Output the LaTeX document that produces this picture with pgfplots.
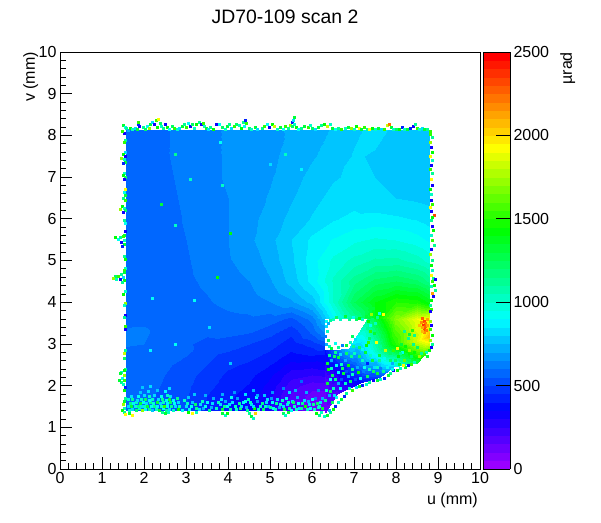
\documentclass[border=0pt]{standalone}
\usepackage{pgfplots}
\pgfplotsset{compat=1.18}
\usepackage{fontspec}
\setmainfont{Liberation Sans}
\pgfplotsset{colormap={rbbase}{rgb(0)=(0.6,0,1) rgb(340)=(0,0,1) rgb(890)=(0,1,1) rgb(1440)=(0,1,0) rgb(1940)=(1,1,0) rgb(2500)=(1,0,0)}}
\pgfplotsset{colormap={rb}{samples of colormap=(50 of rbbase)}}
\begin{document}
\begin{tikzpicture}[x=1pt,y=1pt]
\path[use as bounding box] (0,0) rectangle (601,522);
\node[anchor=base] at (285,498) {\fontsize{19.4}{20}\selectfont JD70-109 scan 2};
\node[anchor=north east,rotate=90,inner sep=0pt] at (23,470) {\fontsize{16}{16}\selectfont v (mm)};
\node[anchor=base east,inner sep=0pt] at (478,18) {\fontsize{16}{16}\selectfont u (mm)};
\node[anchor=north east,rotate=90,inner sep=0pt] at (560,470) {\fontsize{16}{16}\selectfont µrad};
\begin{axis}[at={(60pt,53pt)},anchor=south west,width=420pt,height=417pt,scale only axis,
 xmin=0,xmax=10,ymin=0,ymax=10,xtick={0,1,...,10},ytick={0,1,...,10},minor tick num=4,
 tick pos=left,tick align=inside,axis line style={line width=0.8pt},
 every tick/.style={black,line width=0.7pt},
 major tick length=12pt,minor tick length=6pt,
 tick label style={font=\fontsize{16}{16}\selectfont},
 /pgf/number format/assume math mode=true,
 colormap name=rb,colormap access=piecewise constant,
 point meta min=0,point meta max=2500,
 colorbar,
 colorbar style={at={(1.0071,0)},anchor=south west,width=27pt,height=417pt,
   ytick={0,500,1000,1500,2000,2500},yticklabel pos=right,
   ytick pos=right,major tick length=14pt,tick align=inside,
   /pgf/number format/fixed,/pgf/number format/1000 sep={},
   /pgf/number format/assume math mode=true,
   tick label style={font=\fontsize{16}{16}\selectfont},
   axis line style={line width=0.8pt}},
 clip=true]
\addplot[surf,shader=interp,mesh/cols=16,point meta=explicit,mesh/ordering=x varies] table[x index=0,y index=1,meta index=2,row sep=\\] {
1.58 8.13 555\\2 8.13 565\\2.5 8.13 595\\3 8.13 620\\3.5 8.13 640\\4 8.13 655\\4.5 8.13 670\\5 8.13 690\\5.5 8.13 705\\6 8.13 730\\6.5 8.13 755\\7 8.13 790\\7.5 8.13 815\\8 8.13 790\\8.5 8.13 785\\8.8 8.13 790\\
1.58 7.5 555\\2 7.5 565\\2.5 7.5 595\\3 7.5 620\\3.5 7.5 640\\4 7.5 655\\4.5 7.5 675\\5 7.5 690\\5.5 7.5 715\\6 7.5 745\\6.5 7.5 770\\7 7.5 805\\7.5 7.5 795\\8 7.5 780\\8.5 7.5 775\\8.8 7.5 790\\
1.58 7 560\\2 7 565\\2.5 7 590\\3 7 615\\3.5 7 640\\4 7 655\\4.5 7 680\\5 7 695\\5.5 7 730\\6 7 765\\6.5 7 795\\7 7 810\\7.5 7 800\\8 7 790\\8.5 7 785\\8.8 7 780\\
1.58 6.5 565\\2 6.5 570\\2.5 6.5 585\\3 6.5 610\\3.5 6.5 635\\4 6.5 650\\4.5 6.5 680\\5 6.5 705\\5.5 6.5 745\\6 6.5 785\\6.5 6.5 815\\7 6.5 830\\7.5 6.5 810\\8 6.5 800\\8.5 6.5 790\\8.8 6.5 780\\
1.58 6 565\\2 6 570\\2.5 6 580\\3 6 605\\3.5 6 630\\4 6 650\\4.5 6 685\\5 6 720\\5.5 6 765\\6 6 805\\6.5 6 845\\7 6 865\\7.5 6 870\\8 6 860\\8.5 6 845\\8.8 6 825\\
1.58 5.5 565\\2 5.5 570\\2.5 5.5 580\\3 5.5 600\\3.5 5.5 625\\4 5.5 650\\4.5 5.5 690\\5 5.5 735\\5.5 5.5 800\\6 5.5 865\\6.5 5.5 905\\7 5.5 940\\7.5 5.5 960\\8 5.5 950\\8.5 5.5 920\\8.8 5.5 890\\
1.58 5 565\\2 5 570\\2.5 5 580\\3 5 595\\3.5 5 620\\4 5 645\\4.5 5 670\\5 5 720\\5.5 5 790\\6 5 880\\6.5 5 965\\7 5 1020\\7.5 5 1065\\8 5 1070\\8.5 5 1030\\8.8 5 980\\
1.58 4.5 565\\2 4.5 570\\2.5 4.5 575\\3 4.5 590\\3.5 4.5 610\\4 4.5 630\\4.5 4.5 650\\5 4.5 695\\5.5 4.5 770\\6 4.5 870\\6.5 4.5 1010\\7 4.5 1130\\7.5 4.5 1220\\8 4.5 1250\\8.5 4.5 1210\\8.8 4.5 1130\\
1.58 4 560\\2 4 565\\2.5 4 570\\3 4 580\\3.5 4 595\\4 4 615\\4.5 4 625\\5 4 650\\5.5 4 690\\6 4 770\\6.5 4 1000\\7 4 1250\\7.5 4 1400\\8 4 1500\\8.5 4 1480\\8.8 4 1380\\
1.58 3.6 580\\2 3.6 590\\2.5 3.6 570\\3 3.6 565\\3.5 3.6 570\\4 3.6 585\\4.5 3.6 590\\5 3.6 575\\5.5 3.6 535\\6 3.6 620\\6.5 3.6 880\\7 3.6 1100\\7.5 3.6 1400\\8 3.6 1700\\8.5 3.6 1900\\8.8 3.6 1950\\
};
\addplot[surf,shader=interp,mesh/cols=11,point meta=explicit,mesh/ordering=x varies] table[x index=0,y index=1,meta index=2,row sep=\\] {
1.58 3.6 580\\2 3.6 590\\2.5 3.6 570\\3 3.6 565\\3.5 3.6 570\\4 3.6 585\\4.5 3.6 590\\5 3.6 575\\5.5 3.6 535\\6 3.6 620\\6.3 3.6 760\\
1.58 3.25 610\\2 3.25 610\\2.5 3.25 570\\3 3.25 560\\3.5 3.25 555\\4 3.25 560\\4.5 3.25 550\\5 3.25 515\\5.5 3.25 460\\6 3.25 560\\6.3 3.25 650\\
1.58 3 610\\2 3 600\\2.5 3 565\\3 3 555\\3.5 3 540\\4 3 530\\4.5 3 500\\5 3 470\\5.5 3 425\\6 3 470\\6.3 3 520\\
1.58 2.75 570\\2 2.75 570\\2.5 2.75 565\\3 2.75 555\\3.5 2.75 510\\4 2.75 490\\4.5 2.75 470\\5 2.75 440\\5.5 2.75 390\\6 2.75 410\\6.3 2.75 400\\
1.58 2.5 565\\2 2.5 565\\2.5 2.5 560\\3 2.5 530\\3.5 2.5 500\\4 2.5 460\\4.5 2.5 440\\5 2.5 400\\5.5 2.5 330\\6 2.5 320\\6.3 2.5 340\\
1.58 2.25 565\\2 2.25 565\\2.5 2.25 550\\3 2.25 520\\3.5 2.25 480\\4 2.25 440\\4.5 2.25 415\\5 2.25 360\\5.5 2.25 270\\6 2.25 250\\6.3 2.25 260\\
1.58 2 565\\2 2 565\\2.5 2 545\\3 2 510\\3.5 2 465\\4 2 425\\4.5 2 395\\5 2 330\\5.5 2 220\\6 2 170\\6.3 2 170\\
1.58 1.75 560\\2 1.75 560\\2.5 1.75 540\\3 1.75 505\\3.5 1.75 450\\4 1.75 410\\4.5 1.75 380\\5 1.75 310\\5.5 1.75 190\\6 1.75 130\\6.3 1.75 130\\
1.58 1.4 560\\2 1.4 560\\2.5 1.4 535\\3 1.4 500\\3.5 1.4 440\\4 1.4 400\\4.5 1.4 370\\5 1.4 300\\5.5 1.4 180\\6 1.4 120\\6.3 1.4 110\\
};
\addplot[surf,shader=interp,mesh/cols=7,point meta=explicit,mesh/ordering=x varies] table[x index=0,y index=1,meta index=2,row sep=\\] {
6.3 2.85 400\\6.5 2.85 550\\6.88 2.9 800\\7.3 3.6 1150\\8 3.6 1700\\8.5 3.6 1900\\8.8 3.6 1950\\
6.3 2.1 170\\6.55 2.4 320\\7 2.5 550\\7.45 2.8 950\\7.9 3 1450\\8.4 3.05 1800\\8.8 3.2 2100\\
6.3 1.35 110\\6.6 1.8 180\\7.14 2.06 360\\7.62 2.2 500\\7.93 2.45 800\\8.5 2.54 1300\\8.8 2.9 1700\\
};
\addplot[scatter,only marks,mark=square*,mark size=1pt,line width=0.2pt,point meta=explicit,scatter/use mapped color={draw=mapped color,fill=mapped color}] table[x index=0,y index=1,meta index=2,row sep=\\] {
1.5 8.24 1300\\1.55 8.2 900\\1.58 8.17 1100\\1.62 8.13 700\\1.67 8.17 1400\\1.72 8.14 1000\\1.78 8.18 800\\1.83 8.15 1300\\1.88 8.22 300\\1.86 8.27 400\\1.87 8.32 1500\\1.97 8.19 1100\\2.02 8.15 1200\\2.07 8.22 900\\2.12 8.17 1700\\2.15 8.27 1300\\2.2 8.32 800\\2.25 8.26 300\\2.28 8.36 1500\\2.33 8.38 1900\\2.38 8.3 1200\\2.4 8.23 1000\\2.3 8.2 1400\\2.45 8.17 1100\\2.5 8.26 300\\2.55 8.2 1400\\2.6 8.15 900\\2.66 8.22 1200\\2.72 8.17 1500\\2.78 8.14 1000\\2.84 8.18 800\\2.9 8.22 1300\\2.95 8.27 1100\\3 8.2 1500\\3.05 8.3 900\\3.1 8.22 300\\3.15 8.28 1200\\3.2 8.18 1000\\3.25 8.26 1400\\3.3 8.33 1100\\3.35 8.27 300\\3.4 8.3 1500\\3.42 8.22 1000\\3.47 8.17 1300\\3.52 8.14 800\\3.58 8.2 1100\\3.65 8.16 1400\\3.72 8.26 300\\3.78 8.28 900\\3.85 8.2 1200\\3.92 8.15 1000\\3.98 8.22 1300\\4.02 8.26 1100\\4.08 8.18 800\\4.14 8.22 1500\\4.2 8.27 1200\\4.26 8.24 1000\\4.32 8.18 1400\\4.36 8.33 1100\\4.4 8.37 400\\4.44 8.3 1500\\4.38 8.22 900\\4.5 8.18 1200\\4.56 8.15 1000\\4.64 8.2 1300\\4.7 8.14 800\\4.8 8.18 1100\\4.86 8.23 1500\\4.92 8.26 900\\4.98 8.2 300\\5.04 8.27 1400\\5.1 8.22 1800\\5.16 8.16 1000\\5.24 8.2 1300\\5.3 8.15 900\\5.37 8.22 1500\\5.43 8.17 1100\\5.49 8.25 1700\\5.53 8.31 300\\5.57 8.27 1000\\5.55 8.36 800\\5.58 8.43 1300\\5.53 8.22 1200\\5.62 8.2 1400\\5.68 8.15 900\\5.75 8.17 1100\\5.82 8.22 1300\\5.9 8.2 1500\\5.95 8.25 1000\\6 8.17 1200\\6.08 8.15 800\\6.15 8.2 1300\\6.22 8.24 1100\\6.28 8.27 1400\\6.35 8.22 1800\\6.42 8.27 1000\\6.48 8.18 1300\\6.55 8.15 900\\6.62 8.17 1100\\6.7 8.14 1500\\6.78 8.17 1000\\6.85 8.19 1300\\6.92 8.17 1700\\7 8.15 1000\\7.06 8.22 1400\\7.12 8.18 1900\\7.18 8.15 1300\\7.25 8.2 1500\\7.3 8.16 1100\\7.36 8.14 1900\\7.42 8.17 1400\\7.5 8.14 1000\\7.58 8.18 1300\\7.65 8.15 800\\7.72 8.16 1500\\7.78 8.24 1800\\7.83 8.27 2200\\7.88 8.2 1300\\7.94 8.15 1000\\8 8.14 1200\\8.08 8.16 1400\\8.14 8.2 400\\8.2 8.16 1000\\8.27 8.15 1300\\8.34 8.18 400\\8.4 8.22 300\\8.45 8.26 1100\\8.5 8.18 1500\\8.56 8.14 1000\\8.62 8.18 800\\8.68 8.16 1300\\8.74 8.14 1100\\8.8 8.1 1500\\
1.53 8.05 300\\1.48 8.1 1500\\1.55 7.88 1100\\1.53 7.83 1500\\1.55 7.6 800\\1.5 7.55 1400\\1.46 7.45 1700\\1.52 7.42 1000\\1.55 7.36 1300\\1.5 7.33 400\\1.55 7.5 300\\1.53 7.1 1000\\1.5 7.05 1400\\1.55 7 1200\\1.52 6.95 300\\1.56 6.72 1900\\1.53 6.65 900\\1.55 6.58 1300\\1.5 6.5 1100\\1.55 6.44 1500\\1.47 6.3 1400\\1.53 6.26 1000\\1.43 6.23 1700\\1.55 6.2 1200\\1.5 6.16 300\\1.53 5.96 1100\\1.56 5.9 900\\1.55 5.7 300\\1.52 5.62 1300\\1.32 5.55 1400\\1.38 5.52 900\\1.44 5.55 1100\\1.5 5.58 1500\\1.53 5.5 1000\\1.46 5.45 300\\1.52 5.4 1300\\1.48 5.34 400\\1.53 5.1 1100\\1.56 5.03 1400\\1.55 4.82 1000\\1.53 4.78 1500\\1.52 4.72 1300\\1.46 4.68 1100\\1.38 4.63 1500\\1.3 4.62 1200\\1.26 4.58 1700\\1.34 4.55 1000\\1.42 4.56 300\\1.5 4.6 800\\1.53 4.52 1400\\1.47 4.48 1100\\1.55 4.26 1000\\1.5 4.2 1400\\1.55 3.98 1700\\1.52 3.93 1000\\1.55 3.7 300\\1.53 3.65 1100\\1.56 3.42 1500\\1.55 3.35 300\\1.55 2.85 1100\\1.52 2.78 1800\\1.53 2.65 1200\\1.55 2.4 1100\\1.52 2.36 1400\\1.46 2.33 1000\\1.42 2.3 1300\\1.53 2.24 1700\\1.47 2.18 900\\1.53 2.12 1500\\1.45 2.08 1100\\1.4 2.12 1300\\1.5 2.03 1000\\1.55 1.96 400\\1.52 1.9 1400\\1.55 1.7 1100\\1.52 1.63 1300\\1.5 1.55 1700\\1.53 1.47 1000\\1.47 1.42 1400\\1.52 1.36 1100\\1.56 1.32 1900\\
8.82 8.02 1500\\8.85 7.95 1100\\8.82 7.85 1700\\8.84 7.72 300\\8.86 7.6 1400\\8.82 7.5 1900\\8.85 7.4 1000\\8.84 7.28 300\\8.82 7.18 1500\\8.86 7.1 1100\\8.83 6.95 1900\\8.85 6.82 300\\8.82 6.72 1400\\8.84 6.6 1000\\8.83 6.45 300\\8.85 6.35 1500\\8.82 6.28 1900\\8.84 6.18 300\\8.9 6.1 2300\\8.86 6.04 1400\\8.83 5.96 1100\\8.85 5.82 300\\8.88 5.72 1400\\8.83 5.62 1000\\8.85 5.48 1500\\8.9 5.38 1100\\8.84 5.28 300\\8.82 5.16 1700\\8.85 5.02 1100\\8.83 4.9 1400\\8.85 4.78 1000\\8.84 4.65 1900\\8.88 4.58 1100\\8.92 4.55 300\\8.85 4.5 1500\\8.9 4.42 1400\\8.84 4.38 1000\\8.92 4.3 1100\\8.85 4.22 2100\\8.88 4.14 300\\8.83 4.06 1400\\8.82 3.92 1100\\8.84 3.84 1500\\8.8 3.78 300\\
8.62 3.62 2250\\8.66 3.55 2300\\8.7 3.5 2200\\8.64 3.46 2350\\8.7 3.42 2250\\8.66 3.36 2300\\8.62 3.4 2100\\8.72 3.34 2200\\8.68 3.28 2150\\8.62 3.3 2050\\8.74 3.6 2100\\8.6 3.52 2150\\8.56 3.46 2050\\8.74 3.46 2100\\
8.82 3.55 1700\\8.84 3.45 300\\8.82 3.35 1500\\8.85 3.22 1400\\8.82 3.1 1700\\8.86 3 1100\\8.83 2.92 300\\8.78 2.85 1400\\8.72 2.8 1000\\8.66 2.75 1500\\8.74 2.7 1300\\8.6 2.78 1100\\8.55 2.7 1700\\8.5 2.62 1300\\8.44 2.56 1000\\8.36 2.52 1500\\8.28 2.48 400\\8.22 2.44 1300\\8.16 2.5 1900\\8.1 2.42 1000\\8.02 2.38 1400\\7.94 2.36 300\\7.86 2.3 1100\\7.8 2.24 1300\\7.72 2.18 400\\7.62 2.16 1000\\7.54 2.12 1300\\7.45 2.14 300\\7.36 2.08 1100\\7.28 2.04 1000\\7.2 2.02 400\\7.12 1.98 1300\\7.04 1.96 800\\6.96 1.9 1500\\6.88 1.95 1000\\6.82 1.82 1100\\6.76 1.75 400\\6.7 1.68 1300\\6.62 1.6 1000\\6.56 1.52 400\\6.5 1.44 1400\\6.44 1.36 1100\\6.36 1.3 1300\\6.28 1.27 1000\\6.4 1.42 700\\6.48 1.6 1200\\6.58 1.72 900\\
8.4 3 1100\\8.3 2.85 1700\\8.24 2.75 1300\\8.15 2.8 900\\8.05 2.7 1400\\8.1 2.6 1100\\8.2 2.62 1600\\8.35 2.7 1200\\8 2.52 1000\\7.9 2.55 700\\7.85 2.62 1200\\7.78 2.45 900\\7.7 2.35 1100\\7.62 2.42 600\\7.55 2.3 1300\\7.48 2.45 800\\7.42 2.28 500\\7.35 2.4 1000\\7.3 2.22 1200\\7.22 2.35 600\\7.15 2.18 900\\7.1 2.32 1400\\7.02 2.15 500\\6.95 2.28 1000\\6.9 2.1 1200\\6.85 2.22 700\\6.78 2.05 1000\\6.75 2.3 1300\\6.7 2.15 500\\6.66 1.95 900\\7.6 2.6 1100\\7.5 2.55 700\\7.42 2.62 1300\\7.3 2.55 400\\7.2 2.6 1000\\7.12 2.7 1200\\7 2.62 600\\6.92 2.7 1100\\6.85 2.5 1400\\6.78 2.62 700\\6.7 2.52 1000\\6.62 2.68 1300\\6.58 2.5 900\\6.52 2.7 1200\\6.45 2.6 700\\6.4 2.72 1100\\6.36 2.55 1300\\6.45 2.42 1000\\6.38 2.4 1400\\6.48 2.25 1200\\6.42 2.15 900\\6.36 2.05 1300\\6.34 1.9 1000\\6.4 1.78 700\\6.32 1.65 1100\\
7.28 2.98 1400\\7.2 2.88 900\\7.26 2.8 1300\\7.12 2.92 1200\\7.05 2.85 700\\6.98 2.95 1100\\7.33 3.05 1500\\7.36 3.15 1200\\7.3 3.22 1000\\7.38 3.3 1500\\7.32 3.38 1100\\7.38 3.46 900\\7.33 3.55 1400\\7.42 3.6 1200\\7.2 3.6 1000\\7.12 3.62 1400\\7.05 3.6 1200\\6.98 3.64 900\\7.28 3.66 1300\\7.4 3.72 1700\\7.46 3.85 1300\\
7.6 3.75 900\\7.7 3.72 1900\\7.55 3.65 1100\\7.5 3.5 1000\\7.48 3.25 1300\\7.52 3.05 1900\\7.62 2.95 1100\\7.75 2.85 1800\\7.85 2.78 1200\\8.02 2.9 1900\\8.12 3 1300\\8.28 3.15 1100\\8.2 3.3 1100\\8.32 3.24 1300\\8.42 3.2 1100\\8.38 3.34 1500\\
6.33 3.55 900\\6.38 3.5 700\\6.42 3.56 1100\\6.33 3.42 800\\6.36 3.3 1000\\6.32 3.18 600\\6.38 3.1 1200\\6.33 3 700\\6.4 2.95 1000\\6.46 2.9 1300\\6.55 3.02 900\\6.62 2.92 1100\\6.72 2.98 600\\6.82 2.96 1300\\6.9 3.05 1000\\6.95 3.18 1200\\7.02 3.12 800\\6.5 3.6 1000\\6.58 3.64 1200\\6.68 3.6 1000\\6.78 3.66 1300\\6.88 3.6 1100\\
1.65 1.42 1000\\1.72 1.44 800\\1.8 1.42 1200\\1.88 1.45 1000\\1.95 1.42 1700\\2.03 1.44 900\\2.12 1.43 1100\\2.2 1.42 750\\2.28 1.44 1000\\2.36 1.42 1300\\2.45 1.45 900\\2.52 1.42 1100\\2.6 1.43 800\\2.7 1.42 1000\\2.8 1.44 1400\\2.9 1.42 900\\
1.62 1.5 800\\1.7 1.5 1300\\1.78 1.52 950\\1.85 1.5 1100\\1.93 1.52 800\\2 1.5 1000\\2.08 1.52 1300\\2.16 1.5 900\\2.24 1.52 1100\\2.32 1.5 850\\2.4 1.52 1000\\2.48 1.5 1500\\2.56 1.52 900\\2.64 1.5 1100\\2.74 1.52 800\\2.84 1.5 1000\\
1.66 1.58 1100\\1.74 1.58 850\\1.82 1.6 1000\\1.9 1.58 1300\\1.98 1.6 900\\2.06 1.58 800\\2.14 1.6 1100\\2.22 1.58 950\\2.3 1.6 1300\\2.38 1.58 800\\2.46 1.6 1000\\2.54 1.58 850\\2.62 1.6 1200\\2.72 1.58 900\\2.82 1.6 800\\
1.62 1.67 950\\1.72 1.68 1100\\1.84 1.66 800\\1.92 1.68 1000\\2.02 1.67 1200\\2.12 1.66 850\\2.2 1.68 1000\\2.34 1.67 800\\2.42 1.68 1100\\2.52 1.66 900\\2.6 1.68 1300\\2.7 1.66 900\\2.78 1.7 1100\\
1.7 1.76 800\\1.85 1.75 900\\2 1.77 800\\2.12 1.76 1000\\2.25 1.78 800\\2.4 1.75 900\\2.55 1.77 1000\\2.62 1.76 800\\1.9 1.85 750\\2.1 1.88 800\\2.3 1.9 750\\2.5 1.86 850\\2.15 2 800\\2.6 1.95 800\\1.95 1.97 750\\
3 1.5 800\\3.08 1.44 900\\3.15 1.6 750\\3.25 1.46 1100\\3.33 1.55 800\\3.4 1.45 700\\3.5 1.6 850\\3.6 1.48 700\\3.65 1.7 700\\3.05 1.72 750\\3.2 1.8 750\\2.95 1.66 1000\\3.45 1.78 700\\
3.72 1.46 1000\\3.8 1.55 800\\3.86 1.44 1300\\3.92 1.62 700\\3.98 1.5 900\\4.05 1.44 1100\\4.1 1.6 800\\4.16 1.52 1000\\4.22 1.7 650\\4.28 1.45 1200\\4.35 1.6 850\\4.42 1.48 700\\4.48 1.68 1000\\4.55 1.55 800\\4.62 1.45 1400\\4.7 1.62 650\\4.76 1.5 1000\\4.84 1.44 1200\\4.9 1.6 800\\4.96 1.5 700\\5.02 1.7 650\\5.08 1.46 900\\5.15 1.58 1100\\5.22 1.48 700\\5.28 1.66 1000\\5.34 1.44 1300\\5.4 1.56 800\\5.46 1.47 1100\\5.52 1.62 800\\5.58 1.5 1000\\5.64 1.72 700\\5.7 1.45 800\\5.76 1.58 1100\\5.84 1.5 1400\\5.9 1.64 700\\5.96 1.46 900\\6.02 1.55 1100\\6.08 1.7 600\\6.14 1.48 1000\\6.2 1.6 800\\6.25 1.45 1300\\4.15 1.85 650\\4.6 1.9 700\\5.05 1.85 650\\5.3 1.95 600\\5.6 1.9 700\\3.85 1.8 700\\4.4 1.8 800\\4.85 1.78 750\\5.75 2.1 550\\
3.02 1.58 1000\\3.12 1.5 900\\3.22 1.56 1200\\3.3 1.43 800\\3.38 1.62 1000\\3.46 1.5 900\\3.55 1.42 1100\\3.62 1.58 800\\3.76 1.6 1000\\3.84 1.68 800\\3.9 1.5 1100\\4.02 1.56 800\\4.08 1.72 900\\4.2 1.44 1000\\4.26 1.58 1100\\4.32 1.5 800\\4.4 1.64 900\\4.46 1.42 1100\\4.52 1.6 1000\\4.6 1.52 800\\4.66 1.72 850\\4.72 1.44 1000\\4.8 1.58 1100\\4.88 1.52 1000\\4.94 1.68 800\\5 1.48 1100\\5.06 1.6 900\\5.12 1.44 1000\\5.18 1.68 800\\5.25 1.56 1000\\5.32 1.52 800\\5.38 1.7 900\\5.44 1.6 1000\\5.5 1.42 900\\5.56 1.6 1200\\5.62 1.44 1000\\5.68 1.58 900\\5.74 1.46 1100\\5.8 1.66 800\\5.88 1.44 1000\\5.94 1.56 800\\6 1.68 900\\6.06 1.44 1000\\6.12 1.58 1200\\6.18 1.5 1000\\6.24 1.7 700\\5.45 1.85 800\\5.85 1.85 700\\6.15 1.9 600\\4.7 1.78 700\\
7.9 2.4 900\\8.08 2.52 1300\\8.3 2.62 1200\\8.42 2.8 1400\\8.5 2.92 1200\\7.68 2.5 800\\7.56 2.45 1000\\7.45 2.35 1200\\7.25 2.45 900\\7.08 2.45 700\\6.95 2.4 1100\\6.82 2.35 500\\6.72 2.42 1200\\6.62 2.32 900\\6.55 2.15 1100\\6.62 2.05 700\\6.5 1.95 1000\\6.44 1.88 1200\\6.52 1.78 800\\7 2.78 1000\\6.82 2.78 1200\\6.68 2.75 800\\6.55 2.8 1100\\7.38 2.72 1000\\7.6 2.72 1300\\7.72 2.65 900\\7.98 2.62 1200\\8.1 2.78 1100\\7.92 2.85 1500\\8.22 2.95 1400\\
2.75 7.55 1100\\3.8 7.85 900\\5.35 7.55 1000\\3.85 6.8 1000\\2.4 6.35 1300\\2.75 5.85 1000\\3.1 6.95 1000\\5 7.3 800\\4.05 5.65 1400\\3.75 4.6 1400\\5.75 7.2 850\\2.2 4.1 900\\3.2 4.05 900\\3.55 3.4 800\\2.15 2.85 850\\2.75 3.0 900\\4.05 2.55 750\\
1.65 1.33 1300\\1.72 1.3 1900\\2.42 1.36 1100\\2.5 1.33 1300\\2.58 1.36 1000\\3.05 1.36 1400\\3.15 1.34 1900\\3.25 1.36 1000\\3.85 1.35 1300\\3.92 1.3 1000\\3.98 1.35 1400\\4.5 1.34 1100\\4.56 1.28 1300\\4.6 1.22 1000\\4.64 1.34 2000\\5.3 1.35 1200\\5.36 1.3 1000\\5.42 1.36 1300\\6.1 1.34 1400\\6.16 1.3 1100\\6.22 1.36 1000\\
};
\end{axis}
\end{tikzpicture}
\end{document}
